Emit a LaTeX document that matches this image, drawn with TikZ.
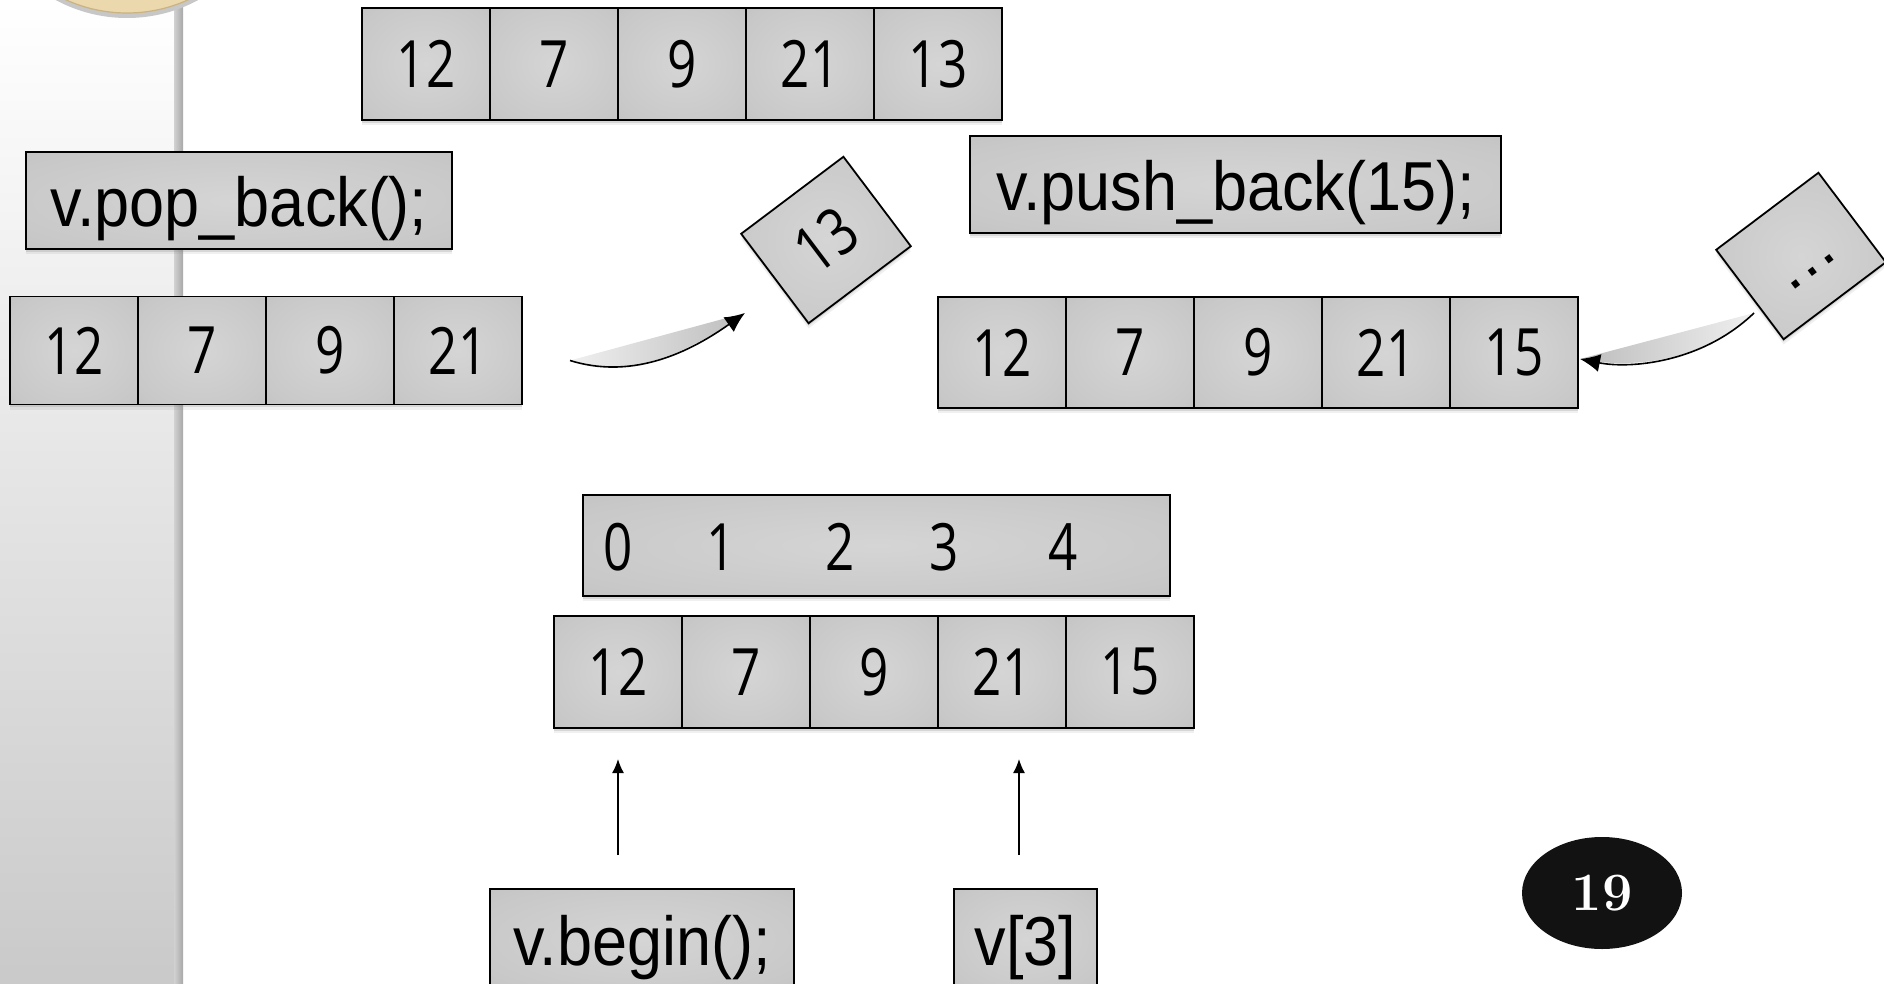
\documentclass[tikz,border=0pt]{standalone}
\usepackage{fontspec}
\usepackage{graphicx}
\newfontfamily\cellfont{Open Sans}
\newfontfamily\codefont{Liberation Sans}
\usetikzlibrary{shapes.geometric,shadows,arrows.meta,calc}
\definecolor{shA}{HTML}{D5D5D5}
\definecolor{shB}{HTML}{C8C8C8}
\definecolor{shC}{HTML}{B8B8B8}
\definecolor{shD}{HTML}{ADADAD}
\definecolor{goldfill}{HTML}{EBD8AC}
\definecolor{goldedge}{HTML}{C9B384}
\pgfdeclareradialshading{boxshade}{\pgfpoint{0bp}{0bp}}{color(0bp)=(shA); color(30bp)=(shB); color(52bp)=(shC); color(72bp)=(shD)}
\newcommand\cn[1]{\scalebox{0.8}[1.02]{#1}}
\newcommand\cd[1]{\scalebox{1}[1.1]{#1}}
\tikzset{
  gbox/.style={draw=black, line width=0.9pt, shading=boxshade, inner sep=0pt, outer sep=0pt,
    drop shadow={shadow xshift=0pt, shadow yshift=-2.6pt, opacity=0.12},
    drop shadow={shadow xshift=0pt, shadow yshift=-1.3pt, opacity=0.22}},
  vcell/.style={gbox, minimum width=64pt, minimum height=56pt, font=\cellfont\fontsize{32}{32}\selectfont},
  codebox/.style={gbox, text height=30pt, text depth=4pt, font=\codefont\fontsize{31.5}{36}\selectfont},
  idxnum/.style={inner sep=0pt, font=\cellfont\fontsize{32}{32}\selectfont},
  uparr/.style={line width=0.75pt, -{Latex[length=7pt,width=6pt]}, shorten <=17pt, shorten >=15.5pt},
  curvarr/.style={line width=0.8pt, -{Latex[length=10pt,width=9pt]}}
}
\begin{document}
\begin{tikzpicture}[x=0.5pt,y=-0.5pt]
\useasboundingbox (0,0) rectangle (1884,984);
\clip (0,0) rectangle (1884,984);
% sidebar
\shade[top color=white, bottom color=black!21] (0,0) rectangle (174,984);
\shade[left color=black!18, right color=black!34] (174,0) rectangle (183,984);
% gold circle
\fill[black!22] (127,-132) circle[radius=150];
\fill[goldfill] (127,-135) circle[radius=148];
\draw[goldedge, line width=0.6pt] (127,-135) circle[radius=148];

% top array
\foreach \v [count=\i from 0] in {12,7,9,21,13}
  \node[vcell] (t\i) at ({426+128*\i},64) {\cn{\v}};

% pop_back
\node[codebox, minimum width=213pt, minimum height=48.5pt] (popb) at (239,200.5) {\cd{v.pop\_back();}};
\foreach \v [count=\i from 0] in {12,7,9,21}
  \node[vcell, minimum height=54pt] (p\i) at ({74+128*\i},350.5) {\cn{\v}};

% removed element
\node[vcell, rotate=37] (r13) at (826,240) {\cn{13}};

% push_back
\node[codebox, minimum width=265.5pt, minimum height=48.5pt] (pushb) at (1235.5,184.5) {\cd{v.push\_back(15);}};
\foreach \v [count=\i from 0] in {12,7,9,21,15}
  \node[vcell, minimum height=55.5pt] (q\i) at ({1002+128*\i},352.5) {\cn{\v}};

% new element
\node[vcell, rotate=37] (rdots) at (1801,256) {\vphantom{1}{\codefont\fontsize{33}{33}\selectfont …}};

% curved arrow 1
\coordinate (a1s) at ($(p3.east)+(48,10)$);
\coordinate (a1t) at ($(r13.center)+(-81,73)$);
\shade[left color=black!6, right color=black!26] (a1s) .. controls +(58,18) and +(-62,44) .. (a1t) -- cycle;
\draw[curvarr] (a1s) .. controls +(58,18) and +(-62,44) .. (a1t);

% curved arrow 2
\coordinate (a2s) at ($(rdots.center)+(-47,57)$);
\coordinate (a2t) at ($(q4.east)+(2,6.5)$);
\shade[left color=black!26, right color=black!6] (a2s) .. controls +(-52,50) and +(50,10) .. (a2t) -- cycle;
\draw[curvarr] (a2s) .. controls +(-52,50) and +(50,10) .. (a2t);

% index bar
\node[gbox, minimum width=293.5pt, minimum height=50.5pt] (idx) at (876.5,545.5) {};
\foreach \d/\xx in {0/618,1/721,2/840,3/944,4/1063}
  \node[idxnum] (ix\d) at (\xx,547) {\cn{\d}};

% bottom array
\foreach \v [count=\i from 0] in {12,7,9,21,15}
  \node[vcell] (b\i) at ({618+128*\i},672) {\cn{\v}};

% pointer boxes
\node[codebox, minimum width=152pt, minimum height=50pt] (vbegin) at (642,939) {\cd{v.begin();}};
\node[codebox, minimum width=71.5pt, minimum height=50pt] (vthree) at (1025.5,939) {\cd{v[3]}};

\draw[uparr] (b0.south |- vbegin.north) -- (b0.south);
\draw[uparr] ([xshift=8.5pt]b3.south |- vthree.north) -- ([xshift=8.5pt]b3.south);

% slide number
\node[ellipse, fill=black!93, minimum width=80pt, minimum height=56pt, inner sep=0pt,
      text=white, font=\bfseries\fontsize{27}{27}\selectfont] (badge) at (1602,893) {19};
\end{tikzpicture}
\end{document}
